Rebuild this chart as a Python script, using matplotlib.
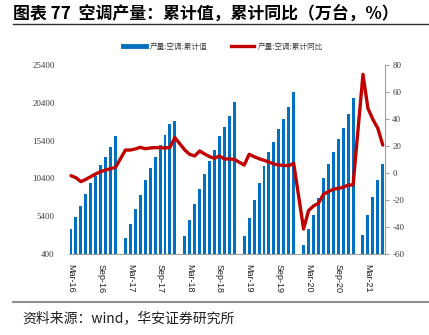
import numpy as np
import matplotlib
matplotlib.use("Agg")
import matplotlib.pyplot as plt
from matplotlib.lines import Line2D

plt.rcParams['font.family'] = ['Noto Sans CJK SC', 'DejaVu Sans']

nan = np.nan
# Monthly from Mar-16 to Jun-21 (Jan values not published -> NaN)
cum_value = [
    3707, 5294, 6749, 8380, 9747, 10717, 12172, 13230, 14553, 16008,            # Mar-Dec 2016
    nan, 2472, 4412, 6352, 8204, 10144, 11775, 13230, 14818, 16140, 17551, 18036,  # 2017
    nan, 2781, 4897, 7014, 8998, 10982, 12701, 14156, 16008, 17154, 18697, 20461,  # 2018
    nan, 2781, 5118, 7498, 9747, 11996, 13847, 15214, 16978, 18301, 19800, 21784,  # 2019
    nan, 1590, 3707, 5559, 7807, 10453, 12260, 13847, 15567, 17066, 18918, 21034,  # 2020
    nan, 2913, 5559, 7939, 10144, 12304,                                        # 2021
]
cum_yoy = [
    -2.0, -3.5, -6.4, -4.7, -2.7, -0.7, 1.0, 2.2, 3.2, 4.2,
    nan, 17.0, 17.0, 17.8, 19.0, 18.0, 18.5, 18.8, 18.8, 18.5, 19.0, 26.2,
    nan, 17.0, 13.8, 12.6, 16.3, 14.1, 12.1, 10.9, 12.6, 10.4, 10.4, 10.1,
    nan, 5.9, 13.8, 12.1, 10.6, 9.4, 8.1, 6.7, 5.9, 5.7, 5.4, 7.2,
    nan, -41.5, -27.9, -24.4, -22.5, -15.8, -13.8, -12.1, -11.4, -10.6, -8.9, -8.9,
    nan, 73.1, 47.9, 39.7, 33.1, 20.7,
]
tick_labels = ['Mar-16', 'Sep-16', 'Mar-17', 'Sep-17', 'Mar-18', 'Sep-18',
               'Mar-19', 'Sep-19', 'Mar-20', 'Sep-20', 'Mar-21']
left_ticks = [400, 5400, 10400, 15400, 20400, 25400]
right_ticks = [-60, -40, -20, 0, 20, 40, 60, 80]

vals = np.array(cum_value, dtype=float)
yoy = np.array(cum_yoy, dtype=float)
x = np.arange(len(vals))

fig = plt.figure(figsize=(4.29, 3.35), dpi=100)
ax = fig.add_axes([0.1597, 0.2418, 0.7383, 0.5642])
blue = '#0070C0'
red = '#C00000'
ax.bar(x, vals, width=0.6, color=blue, zorder=2)
ax.set_ylim(400, 25400)
ax.set_yticks(left_ticks)
ax.set_yticklabels([str(v) for v in left_ticks], family='Liberation Serif', fontsize=6.5, color='#404040')
ax.set_xlim(-0.5, len(vals) - 0.5)
ax.set_xticks(np.arange(0, len(vals), 6))
ax.set_xticklabels(tick_labels, rotation=270, family='Liberation Sans', fontsize=6.5, color='#202020')
ax.tick_params(axis='y', length=0, pad=10)
ax.tick_params(axis='x', length=0, pad=7)
for s in ['left', 'top', 'right']:
    ax.spines[s].set_visible(False)
ax.spines['bottom'].set_color('#A0A0A0')

ax2 = ax.twinx()
m = ~np.isnan(yoy)
ax2.plot(x[m], yoy[m], color=red, lw=2.4, solid_joinstyle='round', solid_capstyle='round', zorder=3)
ax2.set_ylim(-60, 80)
ax2.set_yticks(right_ticks)
ax2.set_yticklabels([str(v) for v in right_ticks], family='Liberation Serif', fontsize=6.5, color='#404040')
ax2.tick_params(axis='y', length=3, color='#A0A0A0', pad=2)
for s in ['left', 'top', 'bottom']:
    ax2.spines[s].set_visible(False)
ax2.spines['right'].set_color('#A0A0A0')

# Title
fig.text(13/429, 1 - 14/335, '图表 77  空调产量：累计值，累计同比（万台，%）',
         fontsize=12.2, fontweight='bold', va='center', ha='left', color='#000000')
fig.add_artist(Line2D([13/429, 1.0], [1 - 24/335] * 2, color='#303030', lw=1.0))

# Legend
handles = [Line2D([], [], color=blue, lw=3.5), Line2D([], [], color=red, lw=2.4)]
fig.legend(handles, ['产量:空调:累计值', '产量:空调:累计同比'], loc='center',
           bbox_to_anchor=(0.52, 1 - 47/335), ncol=2, frameon=False, fontsize=5.5,
           handlelength=3.0, columnspacing=3.0, handletextpad=0.6, labelcolor='#404040')

# Source
fig.add_artist(Line2D([13/429, 1.0], [1 - 302/335] * 2, color='#909090', lw=1.5))
fig.text(22/429, 1 - 318/335, '资料来源：wind，华安证券研究所', fontsize=10, va='center', ha='left', color='#202020')

fig.savefig('out.png', dpi=100)
